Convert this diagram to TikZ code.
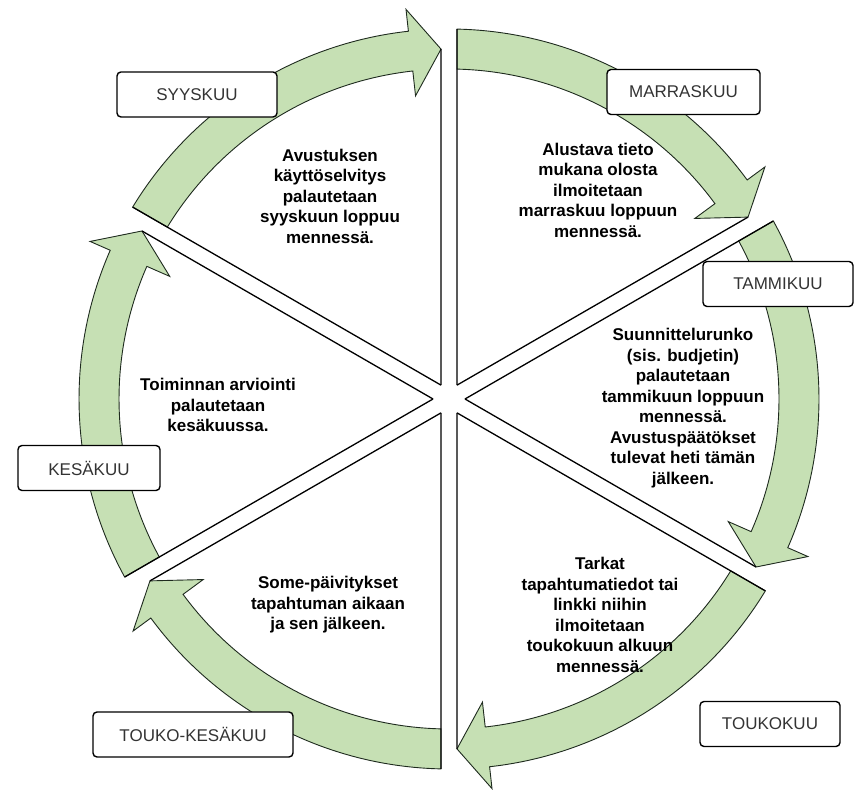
\documentclass[tikz,border=0pt]{standalone}
\usepackage{fontspec}
\setmainfont{Liberation Sans}
\usepackage{xcolor}
\definecolor{kaari-vihrea}{HTML}{C6E0B4}
\definecolor{kaari-reuna}{HTML}{1E2A1E}
\definecolor{kuu-teksti}{HTML}{333333}

\begin{document}
\begin{tikzpicture}[x=1pt, y=1pt,
    kuu/.style={draw=black, line width=1.4pt, fill=white, rounded corners=4pt,
        minimum height=45pt, inner sep=0pt, text=kuu-teksti,
        font=\fontsize{17}{20}\selectfont},
    tieto/.style={align=center, font=\fontsize{17}{20.5}\selectfont\bfseries}]
    \useasboundingbox (0,0) rectangle (861,794);

    % Mittelpunkt des Kreises
    \coordinate (keskus) at (449,395);

    % Sektoren mit Pfeilbogen
    \begin{scope}[shift={(keskus)}]
    \foreach \k in {0,...,5} {
        \pgfmathsetmacro\a{90-60*\k}
        \pgfmathsetmacro\b{\a-60}
        \pgfmathsetmacro\m{\a-30}
        \pgfmathsetmacro\kanta{\b+6.3}
        \pgfmathsetmacro\karki{\b+1.31}

        \draw[fill=kaari-vihrea, draw=kaari-reuna, line width=0.9pt]
            (\a-1.24:370) arc[start angle=\a-1.24, end angle=\kanta, radius=370]
            -- (\kanta:392) -- (\karki:350) -- (\kanta:305) -- (\kanta:330)
            arc[start angle=\kanta, end angle=\a-1.39, radius=330] -- cycle;
        \draw[line width=1.3pt] (\m:16) -- (\a-1.24:370);
        \draw[line width=1.3pt] (\m:16) -- (\karki:350);
    }
    \end{scope}

    % Monatsboxen
    \node[kuu, minimum width=160pt] (syyskuu) at (197,699.5) {SYYSKUU};
    \node[kuu, minimum width=153pt] (marraskuu) at (683.5,702) {MARRASKUU};
    \node[kuu, minimum width=150pt] (tammikuu) at (778,510) {TAMMIKUU};
    \node[kuu, minimum width=142pt] (kesakuu) at (89,326) {KESÄKUU};
    \node[kuu, minimum width=200pt] (toukokesakuu) at (193,59.5) {TOUKO-KESÄKUU};
    \node[kuu, minimum width=140pt] (toukokuu) at (770,70) {TOUKOKUU};

    % Texte in den Sektoren
    \node[tieto] (t-syyskuu) at (330,598)
        {Avustuksen\\käyttöselvitys\\palautetaan\\syyskuun loppuu\\mennessä.};
    \node[tieto] (t-marraskuu) at (598,604)
        {Alustava tieto\\mukana olosta\\ilmoitetaan\\marraskuu loppuun\\mennessä.};
    \node[tieto] (t-tammikuu) at (683,386)
        {Suunnittelurunko\\(sis. budjetin)\\palautetaan\\tammikuun loppuun\\mennessä.\\Avustuspäätökset\\tulevat heti tämän\\jälkeen.};
    \node[tieto] (t-toukokuu) at (600,179)
        {Tarkat\\tapahtumatiedot tai\\linkki niihin\\ilmoitetaan\\toukokuun alkuun\\mennessä.};
    \node[tieto] (t-toukokesakuu) at (328,189)
        {Some-päivitykset\\tapahtuman aikaan\\ja sen jälkeen.};
    \node[tieto] (t-kesakuu) at (218,389)
        {Toiminnan arviointi\\palautetaan\\kesäkuussa.};
\end{tikzpicture}
\end{document}
